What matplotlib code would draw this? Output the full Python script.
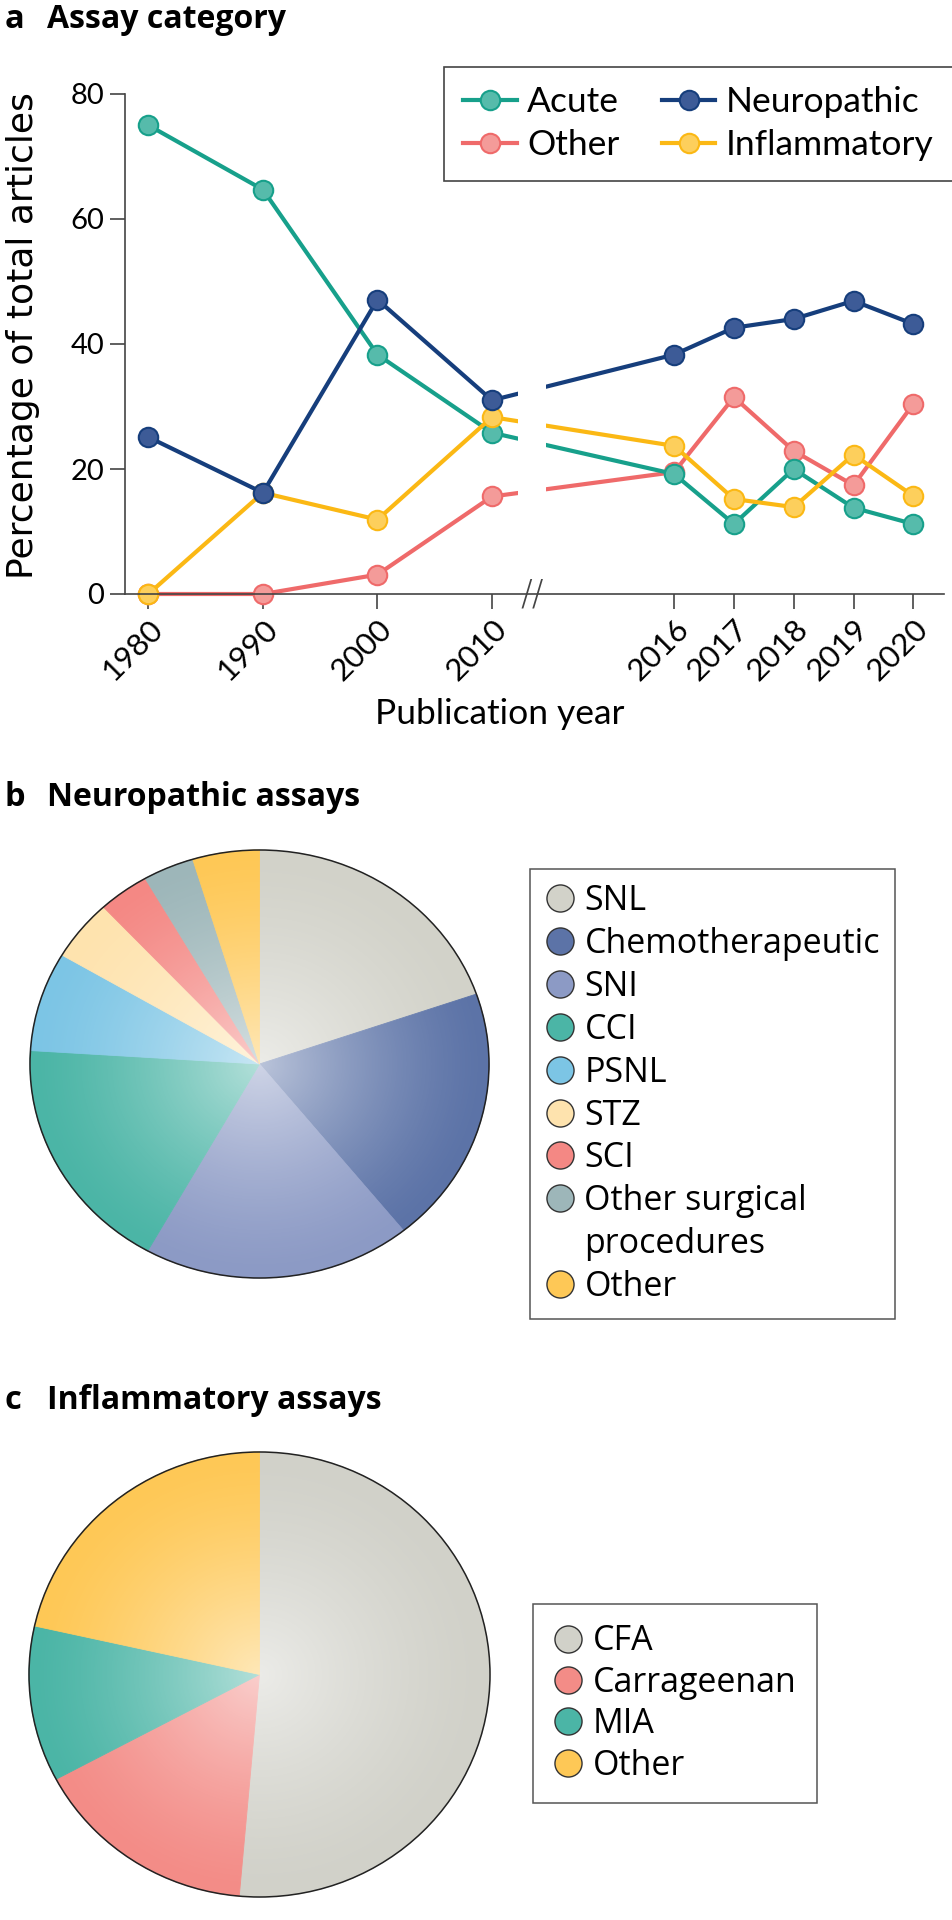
import numpy as np
import matplotlib
matplotlib.use('Agg')
from matplotlib import pyplot as plt
from matplotlib.lines import Line2D
from matplotlib.patches import Circle

# ---- data: panel a (percentage of total articles) ----
years = [1980, 1990, 2000, 2010, 2016, 2017, 2018, 2019, 2020]
acute = [75.0, 64.7, 38.3, 25.8, 19.2, 11.2, 20.0, 13.8, 11.2]
neuropathic = [25.1, 16.2, 47.1, 31.0, 38.3, 42.6, 44.0, 46.9, 43.2]
other = [0.0, 0.0, 3.1, 15.6, 19.5, 31.5, 22.9, 17.4, 30.4]
inflammatory = [0.0, 16.2, 11.9, 28.3, 23.7, 15.2, 13.9, 22.3, 15.7]

# ---- data: panel b (neuropathic assays, %) ----
neuro_labels = ['SNL', 'Chemotherapeutic', 'SNI', 'CCI', 'PSNL', 'STZ', 'SCI',
                'Other surgical procedures', 'Other']
neuro_share = [19.7, 19.5, 18.9, 17.9, 7.5, 4.6, 3.6, 3.6, 4.7]

# ---- data: panel c (inflammatory assays, %) ----
infl_labels = ['CFA', 'Carrageenan', 'MIA', 'Other']
infl_share = [51.4, 15.8, 11.3, 21.5]

# colours
series_col = {'Acute': '#17a08b', 'Neuropathic': '#163e7c',
              'Other': '#ef6a6a', 'Inflammatory': '#fbb814'}
series_face = {'Acute': '#56bbab', 'Neuropathic': '#3d5b97',
               'Other': '#f49b99', 'Inflammatory': '#fdcf5c'}
neuro_cols = ['#d2d2c9', '#5c73a7', '#8c9ac5', '#4bb5a6', '#7cc5e5',
              '#fee3ae', '#f48884', '#9db6b9', '#fec856']
infl_cols = ['#d1d1c9', '#f38c87', '#4bb5a6', '#fec856']

W, H = 953, 1920
fig = plt.figure(figsize=(W / 100, H / 100), dpi=100)


def fx(px):
    return px / W


def fy(py):
    return 1 - py / H


# x layout with a broken axis between 2010 and 2016
def xpos(y):
    if y <= 2010:
        return (y - 1980) / 10
    return 3 + 1.59 + (y - 2016) * 0.522


brk = 3.35
xs = [xpos(y) for y in years]

# ================= panel a =================
ax = fig.add_axes([fx(125), fy(594), fx(944 - 125), 500 / H])
order = [('Other', other), ('Acute', acute), ('Inflammatory', inflammatory),
         ('Neuropathic', neuropathic)]
lines = {}
for name, vals in order:
    ln, = ax.plot(xs, vals, '-o', color=series_col[name], lw=3, ms=14,
                  mfc=series_face[name], mec=series_col[name], mew=1.5,
                  clip_on=False, zorder=2, label=name)
    lines[name] = ln

# gap in the lines at the axis break
ax.axvspan(brk - 0.125, brk + 0.125, color='white', zorder=2.2, lw=0)
ax.text(brk, 0, '//', fontsize=25, color='#444444', ha='center', va='center',
        family='DejaVu Sans', fontweight='light', zorder=3, clip_on=False)

ax.set_xlim(-0.204, 6.946)
ax.set_ylim(0, 80)
ax.set_yticks([0, 20, 40, 60, 80])
ax.set_xticks(xs)
ax.set_xticklabels([str(y) for y in years], rotation=45, ha='right',
                   rotation_mode='anchor', fontsize=22.5, family='Lato')
for lab in ax.get_yticklabels():
    lab.set_family('Lato')
    lab.set_fontsize(21)
for s in ['top', 'right']:
    ax.spines[s].set_visible(False)
for s in ['left', 'bottom']:
    ax.spines[s].set_color('#444444')
    ax.spines[s].set_linewidth(1.2)
    ax.spines[s].set_zorder(2.5)
ax.tick_params(axis='both', direction='out', length=11, width=1.2,
               color='#444444', pad=4)

ax.set_ylabel('Percentage of total articles', fontsize=26, family='DejaVu Sans')
ax.yaxis.set_label_coords(-0.104, 0.516)
ax.set_xlabel('Publication year', fontsize=25.5, family='Lato')
ax.xaxis.set_label_coords(0.458, -0.208)

handles = [lines['Acute'], lines['Other'], lines['Neuropathic'], lines['Inflammatory']]
leg = ax.legend(handles, [h.get_label() for h in handles], ncol=2,
                loc='upper left', bbox_to_anchor=(fx(444), fy(67)),
                bbox_transform=fig.transFigure, borderaxespad=0,
                fancybox=False, edgecolor='#444444', framealpha=1,
                prop={'family': 'Lato', 'size': 25.5}, handlelength=1.5,
                handletextpad=0.3, columnspacing=1.2, borderpad=0.55,
                labelspacing=0.3)
leg.get_frame().set_linewidth(1.2)
leg.set_zorder(5)


def panel_title(letter, text, base_py):
    fig.text(fx(5), fy(base_py), letter, fontsize=23.5, fontweight='bold',
             family='Open Sans', va='baseline')
    fig.text(fx(47), fy(base_py), text, fontsize=23, fontweight='bold',
             family='Open Sans', va='baseline')


panel_title('a', 'Assay category', 28)


# ================= pies =================
def shaded_pie(axp, shares, cols):
    wedges, _ = axp.pie(shares, colors=cols, startangle=90, counterclock=False,
                        radius=1, wedgeprops=dict(linewidth=0.6))
    for w, c in zip(wedges, cols):
        w.set_edgecolor(c)
    n = 300
    g = np.linspace(-1, 1, n)
    xx, yy = np.meshgrid(g, g)
    r = np.clip(np.hypot(xx, yy), 0, 1)
    img = np.ones((n, n, 4))
    img[..., 3] = 0.58 * (1 - r) ** 1.4
    im = axp.imshow(img, extent=(-1, 1, -1, 1), aspect='auto', zorder=3,
                    interpolation='bilinear')
    im.set_clip_path(Circle((0, 0), 1, transform=axp.transData))
    axp.add_patch(Circle((0, 0), 1, fill=False, ec='#222222', lw=1.1,
                         zorder=4, clip_on=False))
    axp.set_aspect('auto')
    axp.set_xlim(-1, 1)
    axp.set_ylim(-1, 1)
    axp.axis('off')


def dot(c):
    return Line2D([], [], ls='', marker='o', ms=19.5, mfc=c, mec='#333333', mew=1)


# panel b
axb = fig.add_axes([fx(30), fy(1278), fx(459), 428 / H])
shaded_pie(axb, neuro_share, neuro_cols)
panel_title('b', 'Neuropathic assays', 806)

hb, lb = [], []
for lab, c in zip(neuro_labels, neuro_cols):
    if lab == 'Other surgical procedures':
        hb += [dot(c), Line2D([], [], ls='', marker='')]
        lb += ['Other surgical', 'procedures']
    else:
        hb.append(dot(c))
        lb.append(lab)
legb = fig.legend(hb, lb, loc='upper left', bbox_to_anchor=(fx(530), fy(869)),
                  borderaxespad=0, fancybox=False, edgecolor='#555555',
                  framealpha=1, prop={'family': 'Open Sans', 'size': 24.5},
                  handlelength=0.85, handletextpad=0.3, borderpad=0.45,
                  labelspacing=0.26)
legb.get_frame().set_linewidth(1.1)

# panel c
axc = fig.add_axes([fx(29), fy(1897), fx(461), 445 / H])
shaded_pie(axc, infl_share, infl_cols)
panel_title('c', 'Inflammatory assays', 1409)
legc = fig.legend([dot(c) for c in infl_cols], infl_labels, loc='upper left',
                  bbox_to_anchor=(fx(533), fy(1604)), borderaxespad=0,
                  fancybox=False, edgecolor='#555555', framealpha=1,
                  prop={'family': 'Open Sans', 'size': 24.5}, handlelength=0.85,
                  handletextpad=0.3, borderpad=0.6, labelspacing=0.22)
legc.get_frame().set_linewidth(1.1)

plt.savefig('out.png', dpi=100)
